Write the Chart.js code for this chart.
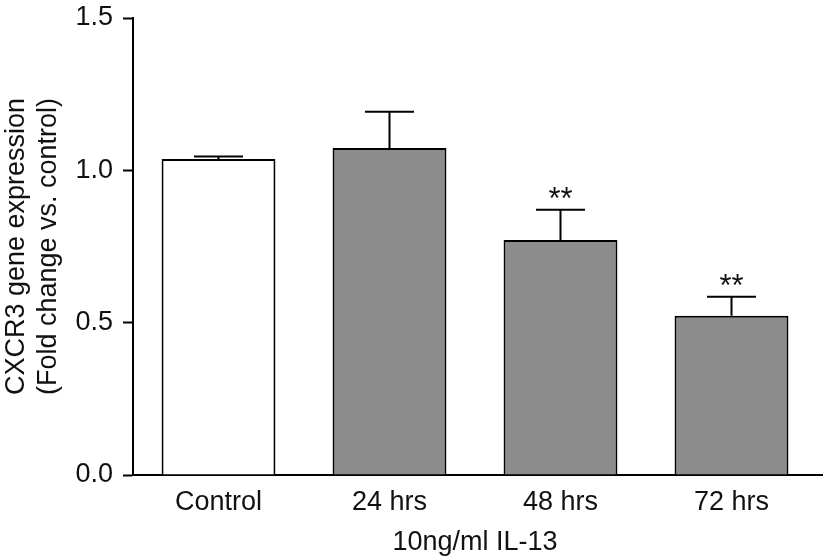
<!DOCTYPE html>
<html><head><meta charset="utf-8">
<script src="https://cdn.jsdelivr.net/npm/chart.js@4/dist/chart.umd.min.js"></script>
<style>html,body{margin:0;padding:0;background:#fff}#wrap{width:826px;height:556px}</style>
</head><body><div id="wrap"><canvas id="c" width="826" height="556"></canvas></div>
<script>
const categories = ['Control', '24 hrs', '48 hrs', '72 hrs'];
const meanValues = [1.037, 1.073, 0.771, 0.523];
const semValues = [0.008, 0.119, 0.100, 0.062];
const significance = ['', '', '**', '**'];
const barColors = ['#ffffff', '#8c8c8c', '#8c8c8c', '#8c8c8c'];
const yTickValues = [0, 0.5, 1.0, 1.5];
const yTitle = ['CXCR3 gene expression', '(Fold change vs. control)'];
const xTitle = '10ng/ml IL-13';

const FONT = '"Liberation Sans", Arial, Helvetica, sans-serif';
const FS = 27;
Chart.defaults.font.family = FONT;
Chart.defaults.font.size = FS;
Chart.defaults.color = '#111';

const errorBarPlugin = {
  id: 'errorBars',
  afterDatasetsDraw(chart) {
    const ctx = chart.ctx;
    const meta = chart.getDatasetMeta(0);
    const ys = chart.scales.y;
    ctx.save();
    ctx.strokeStyle = '#000';
    ctx.lineWidth = 2;
    ctx.fillStyle = '#111';
    ctx.font = '31px ' + FONT;
    ctx.textAlign = 'center';
    ctx.textBaseline = 'alphabetic';
    meta.data.forEach((bar, i) => {
      const top = ys.getPixelForValue(meanValues[i] + semValues[i]);
      const capHalf = bar.width * 0.215;
      ctx.beginPath();
      ctx.moveTo(bar.x, bar.y);
      ctx.lineTo(bar.x, top);
      ctx.moveTo(bar.x - capHalf, top);
      ctx.lineTo(bar.x + capHalf, top);
      ctx.stroke();
      if (significance[i]) ctx.fillText(significance[i], bar.x, top - 1);
    });
    // extend x axis line slightly past the plot area, as in the original
    const ca = chart.chartArea;
    ctx.beginPath();
    ctx.moveTo(ca.right - 1, ca.bottom);
    ctx.lineTo(ca.right + 6, ca.bottom);
    ctx.stroke();
    ctx.restore();
  }
};

new Chart(document.getElementById('c'), {
  type: 'bar',
  data: {
    labels: categories,
    datasets: [{
      data: meanValues,
      backgroundColor: barColors,
      borderColor: '#000',
      borderWidth: 2,
      borderSkipped: 'start',
      barPercentage: 0.666,
      categoryPercentage: 1.0
    }]
  },
  options: {
    responsive: false,
    animation: false,
    devicePixelRatio: 1,
    layout: { padding: { top: 18, right: 9, left: 0, bottom: 0 } },
    plugins: { legend: { display: false }, tooltip: { enabled: false } },
    scales: {
      x: {
        type: 'category',
        offset: true,
        grid: { display: false },
        border: { display: true, color: '#000', width: 2 },
        ticks: { padding: 3, color: '#111', font: { size: FS } },
        title: { display: true, text: xTitle, color: '#111', font: { size: FS, lineHeight: 1.0 }, padding: { top: 0, bottom: 0 } },
        afterFit(scale) { scale.height = 81; scale.paddingLeft = 0; scale.paddingRight = 0; }
      },
      y: {
        min: 0, max: 1.5,
        afterBuildTicks(scale) { scale.ticks = yTickValues.map(v => ({ value: v })); },
        ticks: { padding: 10, color: '#111', font: { size: FS }, callback: v => Number(v).toFixed(1) },
        grid: { drawOnChartArea: false, drawTicks: true, tickLength: 10, tickWidth: 2, tickColor: '#000' },
        border: { display: true, color: '#000', width: 2 },
        title: { display: true, text: yTitle, color: '#111', font: { size: FS, lineHeight: 1.2 }, padding: { top: 0, bottom: 0 } },
        afterFit(scale) { scale.width = 133; scale.paddingTop = 0; scale.paddingBottom = 0; }
      }
    }
  },
  plugins: [errorBarPlugin]
});
</script></body></html>
